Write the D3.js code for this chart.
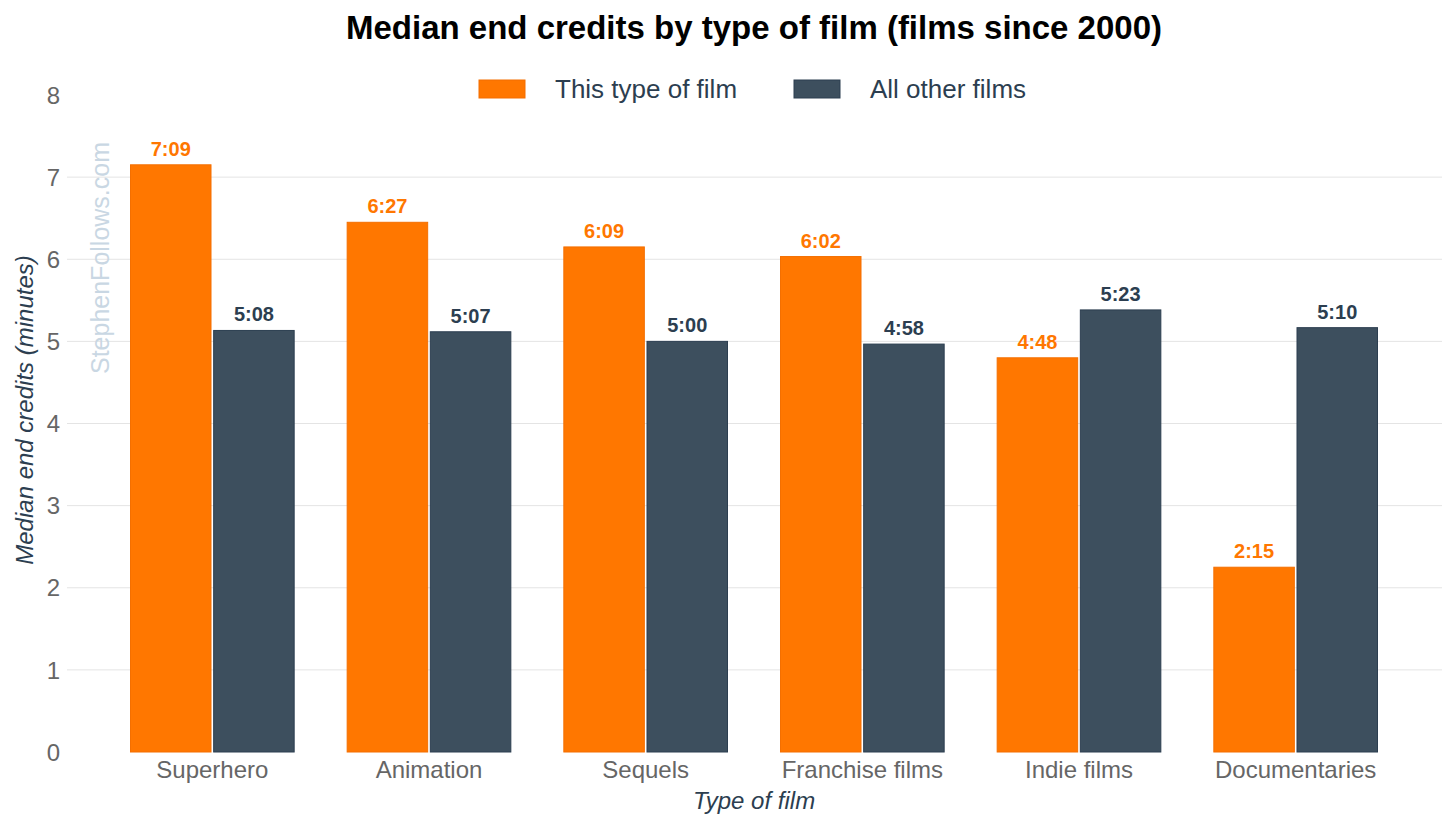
<!DOCTYPE html>
<html>
<head>
<meta charset="utf-8">
<script src="https://cdn.jsdelivr.net/npm/d3@7"></script>
<style>
  body { margin: 0; background: #fff; }
  svg { font-family: "Liberation Sans", Arial, sans-serif; }
</style>
</head>
<body>
<div id="chart"></div>
<script>
// data (minutes, labels as m:ss)
const categories = ["Superhero", "Animation", "Sequels", "Franchise films", "Indie films", "Documentaries"];
const seriesNames = ["This type of film", "All other films"];
const thisType = [7.15, 6.45, 6.15, 6.033, 4.8, 2.25];
const otherFilms = [5.133, 5.117, 5.0, 4.967, 5.383, 5.167];
const thisLabels = ["7:09", "6:27", "6:09", "6:02", "4:48", "2:15"];
const otherLabels = ["5:08", "5:07", "5:00", "4:58", "5:23", "5:10"];
const yTicks = [0, 1, 2, 3, 4, 5, 6, 7, 8];

const width = 1456, height = 828;
const colors = ["#ff7700", "#3d4f5e"];
const strokes = ["#f46f00", "#2c3e50"];

const svg = d3.select("#chart").append("svg")
  .attr("width", width)
  .attr("height", height);

// scales
const x = d3.scaleBand().domain(categories).range([104, 1404]).paddingInner(0.24).paddingOuter(0.12);
const x1 = d3.scaleBand().domain(seriesNames).range([0, x.bandwidth()]).paddingInner(0.02);
const y = d3.scaleLinear().domain([0, 8]).range([752, 95]);

// gridlines
svg.append("g")
  .selectAll("line")
  .data(yTicks.filter(d => d > 0 && d < 8))
  .join("line")
  .attr("x1", 67).attr("x2", 1442)
  .attr("y1", d => y(d)).attr("y2", d => y(d))
  .attr("stroke", "#e4e4e4")
  .attr("stroke-width", 1);

// y tick labels
svg.append("g")
  .selectAll("text")
  .data(yTicks)
  .join("text")
  .attr("x", 60)
  .attr("y", d => y(d))
  .attr("dy", "0.36em")
  .attr("text-anchor", "end")
  .attr("fill", "#666")
  .style("font-size", "24px")
  .text(d => d);

// watermark
svg.append("text")
  .attr("transform", "translate(109,258) rotate(-90)")
  .attr("text-anchor", "middle")
  .attr("fill", "#c9d7e3")
  .style("font-size", "25px")
  .text("StephenFollows.com");

// bars
const rows = categories.map((c, i) => ({
  cat: c,
  vals: [
    { s: 0, v: thisType[i], label: thisLabels[i] },
    { s: 1, v: otherFilms[i], label: otherLabels[i] }
  ]
}));

const groups = svg.append("g")
  .selectAll("g")
  .data(rows)
  .join("g")
  .attr("transform", d => `translate(${x(d.cat)},0)`);

groups.selectAll("rect")
  .data(d => d.vals)
  .join("rect")
  .attr("x", d => x1(seriesNames[d.s]) + 0.5)
  .attr("width", x1.bandwidth() - 1)
  .attr("y", d => y(d.v))
  .attr("height", d => y(0) - y(d.v))
  .attr("fill", d => colors[d.s])
  .attr("stroke", d => strokes[d.s])
  .attr("stroke-width", 1);

groups.selectAll("text")
  .data(d => d.vals)
  .join("text")
  .attr("x", d => x1(seriesNames[d.s]) + x1.bandwidth() / 2)
  .attr("y", d => y(d.v) - 9)
  .attr("text-anchor", "middle")
  .attr("fill", d => d.s === 0 ? "#ff7700" : "#2c3e50")
  .style("font-size", "20px")
  .style("font-weight", "bold")
  .text(d => d.label);

// x tick labels
svg.append("g")
  .selectAll("text")
  .data(categories)
  .join("text")
  .attr("x", d => x(d) + x.bandwidth() / 2)
  .attr("y", 778)
  .attr("text-anchor", "middle")
  .attr("fill", "#666")
  .style("font-size", "24px")
  .text(d => d);

// axis titles
svg.append("text")
  .attr("x", 754)
  .attr("y", 809)
  .attr("text-anchor", "middle")
  .attr("fill", "#2c3e50")
  .style("font-size", "24px")
  .style("font-style", "italic")
  .text("Type of film");

svg.append("text")
  .attr("transform", "translate(33,410) rotate(-90)")
  .attr("text-anchor", "middle")
  .attr("fill", "#2c3e50")
  .style("font-size", "24px")
  .style("font-style", "italic")
  .text("Median end credits (minutes)");

// title
svg.append("text")
  .attr("x", 754)
  .attr("y", 39)
  .attr("text-anchor", "middle")
  .attr("fill", "#000")
  .style("font-size", "33px")
  .style("font-weight", "bold")
  .text("Median end credits by type of film (films since 2000)");

// legend
const legendX = [479, 794];
const legend = svg.append("g")
  .selectAll("g")
  .data(seriesNames)
  .join("g")
  .attr("transform", (d, i) => `translate(${legendX[i]},80)`);

legend.append("rect")
  .attr("width", 46).attr("height", 18)
  .attr("fill", (d, i) => colors[i])
  .attr("stroke", (d, i) => strokes[i]);

legend.append("text")
  .attr("x", 76)
  .attr("y", 9)
  .attr("dy", "0.36em")
  .attr("fill", "#2c3e50")
  .style("font-size", "26px")
  .text(d => d);
</script>
</body>
</html>
